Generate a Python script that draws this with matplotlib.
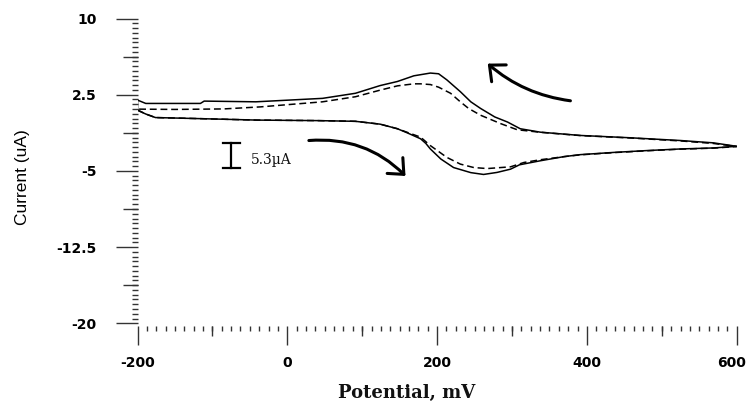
import matplotlib
matplotlib.use('Agg')
import matplotlib.pyplot as plt
import matplotlib.transforms as mtransforms
from matplotlib.patches import FancyArrowPatch
from matplotlib.ticker import FixedLocator
import numpy as np

# ---------------- data (potential in mV, current in uA) ----------------
solid_fwd_E = [-200, -189, -176, -120, -40, 40, 91, 124, 147, 160, 178, 185, 191, 205, 222, 245, 262,
               280, 298, 310, 338, 369, 391, 436, 480, 525, 569, 600]
solid_fwd_I = [0.97, 0.6, 0.25, 0.15, 0.0, -0.05, -0.12, -0.4, -0.85, -1.25, -1.84, -2.3, -2.84, -3.83,
               -4.67, -5.17, -5.35, -5.15, -4.83, -4.4, -4.0, -3.6, -3.4, -3.18, -3.0, -2.84, -2.74, -2.58]
solid_rev_E = [600, 569, 525, 458, 391, 338, 311, 294, 277, 258, 245, 231, 213, 202, 191, 169, 147, 124,
               91, 47, -42, -111, -116, -189, -200]
solid_rev_I = [-2.58, -2.24, -2.01, -1.74, -1.51, -1.19, -0.85, -0.19, 0.31, 1.15, 1.8, 2.8, 3.96, 4.56,
               4.63, 4.36, 3.8, 3.4, 2.64, 2.14, 1.80, 1.87, 1.64, 1.64, 1.97]

dash_fwd_E = [-200, -189, -176, -120, -40, 40, 91, 124, 147, 160, 178, 191, 213, 231, 249, 267, 285, 298,
              316, 338, 369, 391, 436, 480, 525, 569, 600]
dash_fwd_I = [1.0, 0.6, 0.25, 0.15, 0.0, -0.05, -0.12, -0.4, -0.85, -1.2, -1.68, -2.51, -3.67, -4.33,
              -4.67, -4.77, -4.67, -4.6, -4.17, -3.9, -3.6, -3.42, -3.2, -3.02, -2.86, -2.76, -2.6]
dash_rev_E = [600, 569, 525, 458, 391, 338, 307, 285, 258, 242, 231, 218, 202, 191, 178, 169, 147, 124,
              91, 47, -36, -85, -150, -200]
dash_rev_I = [-2.6, -2.3, -2.05, -1.76, -1.52, -1.2, -0.95, -0.35, 0.48, 1.15, 1.8, 2.64, 3.24, 3.5,
              3.57, 3.57, 3.37, 2.95, 2.3, 1.80, 1.3, 1.1, 1.05, 1.08]

x_major = [-200, 0, 200, 400, 600]
x_major_labels = ['-200', '0', '200', '400', '600']
y_major = [-20, -12.5, -5, 2.5, 10]
y_major_labels = ['-20', '-12.5', '-5', '2.5', '10']
x_mid = [-100, 100, 300, 500]
y_mid = [-16.25, -8.75, -1.25, 6.25]

scale_bar_label = '5.3\u00b5A'

# ---------------- figure ----------------
W, H = 748, 401
fig = plt.figure(figsize=(W / 100, H / 100), dpi=100)
pos = [137.5 / W, 1 - 323.3 / H, (736.7 - 137.5) / W, (323.3 - 18.5) / H]
ax = fig.add_axes(pos)
ax.patch.set_alpha(0)

E_s = solid_fwd_E + solid_rev_E + solid_fwd_E[:1]
I_s = solid_fwd_I + solid_rev_I + solid_fwd_I[:1]
E_d = dash_fwd_E + dash_rev_E
I_d = dash_fwd_I + dash_rev_I
ax.plot(E_s, I_s, color='black', lw=1.1, solid_joinstyle='round')
ax.plot(E_d, I_d, color='black', lw=1.1, dashes=(4.5, 2.5))

ax.set_xlim(-200, 600)
ax.set_ylim(-20, 10)
for s in ax.spines.values():
    s.set_visible(False)
ax.spines['bottom'].set_position(('outward', 2))

tick_color = '#333333'
ax.set_xticks(x_major)
ax.set_xticklabels(x_major_labels)
ax.set_yticks(y_major)
ax.set_yticklabels(y_major_labels)
ax.xaxis.set_minor_locator(FixedLocator(np.arange(-200, 600.1, 12.5)))
ax.yaxis.set_minor_locator(FixedLocator(np.arange(-20, 10.001, 0.46875)))
ax.tick_params(axis='x', which='major', direction='out', length=13.5, width=1.0, color=tick_color, pad=8)
ax.tick_params(axis='x', which='minor', direction='out', length=3.6, width=1.0, color=tick_color)
ax.tick_params(axis='y', which='major', direction='out', length=16, width=1.0, color=tick_color, pad=13.5)
ax.tick_params(axis='y', which='minor', direction='out', length=4.3, width=1.0, color=tick_color)
for lab in ax.get_xticklabels() + ax.get_yticklabels():
    lab.set_fontfamily('DejaVu Sans')
    lab.set_fontweight('bold')
    lab.set_fontsize(10)
    lab.set_color('black')
# keep the last x label inside the canvas
last = ax.get_xticklabels()[-1]
last.set_transform(last.get_transform() + mtransforms.ScaledTranslation(-5 / 100, 0, fig.dpi_scale_trans))

# overlay axes for intermediate-length ticks
ax2 = fig.add_axes(pos)
ax2.patch.set_visible(False)
for s in ax2.spines.values():
    s.set_visible(False)
ax2.spines['bottom'].set_position(('outward', 2))
ax2.set_xlim(-200, 600)
ax2.set_ylim(-20, 10)
ax2.set_xticks(x_mid)
ax2.set_yticks(y_mid)
ax2.set_xticklabels([])
ax2.set_yticklabels([])
ax2.tick_params(axis='x', direction='out', length=7.5, width=1.0, color=tick_color)
ax2.tick_params(axis='y', direction='out', length=11, width=1.0, color=tick_color)

# scale bar
bx, by0, by1, bw = -74.7, -2.28, -4.67, 11
ax.plot([bx, bx], [by0, by1], color='black', lw=1.6)
ax.plot([bx - bw, bx + bw], [by0, by0], color='black', lw=1.6)
ax.plot([bx - bw, bx + bw], [by1, by1], color='black', lw=1.6)
ax.text(-49, -4.33, scale_bar_label, family='DejaVu Serif', fontsize=10, ha='left', va='baseline', color='#111111')

# direction arrows
arr_kw = dict(arrowstyle='->,head_length=0.45,head_width=0.4', mutation_scale=20, lw=2.2,
              color='black', shrinkA=0, shrinkB=0)
ax.add_patch(FancyArrowPatch((28.8, -2.01), (157.8, -5.5), connectionstyle='arc3,rad=-0.23', **arr_kw))
ax.add_patch(FancyArrowPatch((378, 1.9), (267.6, 5.56), connectionstyle='arc3,rad=-0.15', **arr_kw))

# axis titles
fig.text(23 / W, 1 - 177.5 / H, 'Current (uA)', rotation=90, ha='center', va='center',
         fontsize=12.5, family='Liberation Sans')
fig.text(407 / W, 1 - 393 / H, 'Potential, mV', ha='center', va='center',
         fontsize=13, family='DejaVu Serif', fontweight='bold', color='#111111')

fig.savefig('out.png', dpi=100)
